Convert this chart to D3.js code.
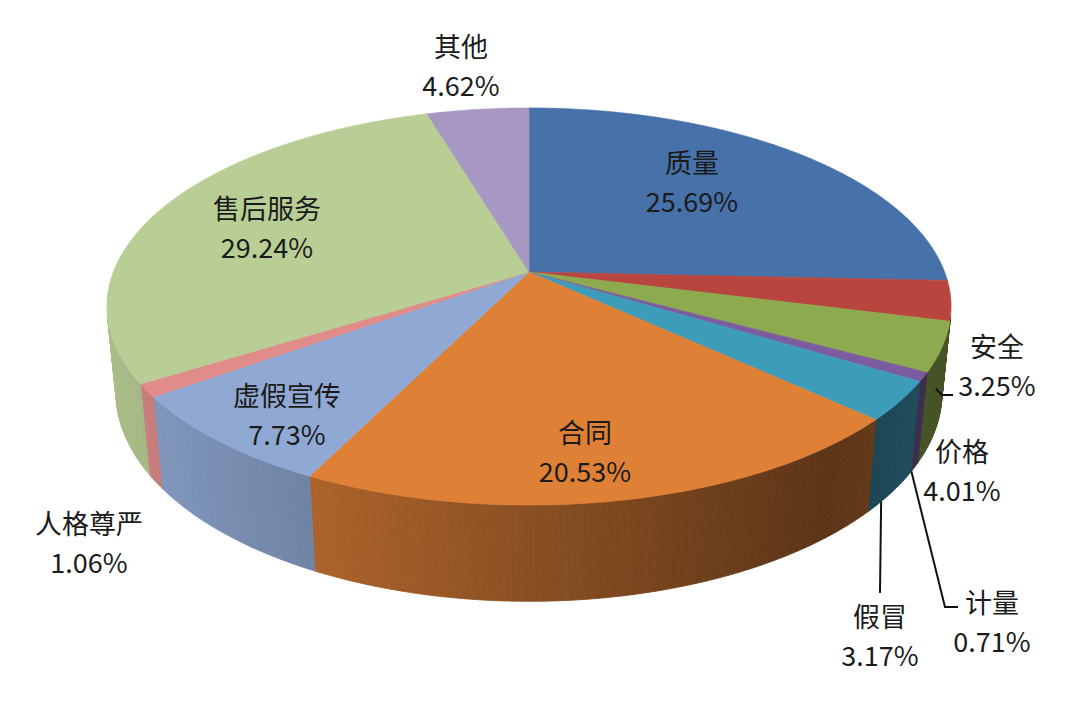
<!DOCTYPE html>
<html><head><meta charset="utf-8">
<script src="https://cdn.jsdelivr.net/npm/d3@7"></script>
<style>body{margin:0;background:#fff;} svg{display:block;}</style>
</head><body>
<svg id="chart" width="1080" height="710"></svg>
<script>
// ---- data ----
const categories = ["质量","安全","价格","计量","假冒","合同","虚假宣传","人格尊严","售后服务","其他"];
const values = [25.69, 3.25, 4.01, 0.71, 3.17, 20.53, 7.73, 1.06, 29.24, 4.62];
const colors = ["#4671a9","#b8463f","#8daa4e","#7b5c9e","#3e9cbb","#df8037","#90a9d4","#df8c8b","#b9ce94","#a797c3"];

// ---- layout (label anchors: centre of name line) ----
const labelPos = [[692,161],[997,345],[962,450],[992,601],[880,615],[585,431],[287,394],[89,522],[267,207],[461,45]];
const lineGap = 39;
// leader lines: start on the pie side (angle in degrees, depth fraction), then path relative to the label
const leaders = [
  {i:1, theta:113, hFrac:0.4, path:(x,y)=>[[x-55,y+50],[x-44,y+50]]},
  {i:3, theta:121, hFrac:1.0, path:(x,y)=>[[x-47,y+6],[x-34,y+6]]},
  {i:4, theta:129.5, hFrac:1.0, path:(x,y)=>[[x,y-22]]}
];

// ---- projection (perspective 3D pie) ----
const cx = 529, cy = 272, D = 5.098, cPhi = 0.886, sPhi = 0.4633, f = 2119, thick = 0.235;
function proj(th, r, h) {
  const x = r * Math.sin(th), y = -r * Math.cos(th);
  const depth = D - cPhi * y - sPhi * h;
  return [cx + f * x / depth, cy + f * (sPhi * y - cPhi * h) / depth];
}

const svg = d3.select("#chart");
const pie = d3.pie().sort(null).value(d => d)(values);
const line = d3.line();
const rad = Math.PI / 180;

function shadeFactor(sx) {
  const u = (sx - cx) / 423;
  if (u < 0.7) return 0.62 - 0.30 * u;
  return 0.41 + (u - 0.7) * 0.3;
}
function shade(col, k) {
  const c = d3.rgb(col);
  return d3.rgb(c.r * k, c.g * k, c.b * k).formatHex();
}

// ---- side walls ----
const visMin = Math.acos(-1 / (D * cPhi)), visMax = 2 * Math.PI - visMin;
const sideG = svg.append("g");
const strips = [];
pie.forEach((d, i) => {
  const a0 = Math.max(d.startAngle, visMin), a1 = Math.min(d.endAngle, visMax);
  if (a1 <= a0) return;
  const n = Math.max(1, Math.ceil((a1 - a0) / (0.5 * rad)));
  for (let k = 0; k < n; k++) {
    const s0 = a0 + (a1 - a0) * k / n, s1 = a0 + (a1 - a0) * (k + 1) / n;
    const pts = [proj(s0,1,0), proj(s1,1,0), proj(s1,1,-thick), proj(s0,1,-thick)];
    const mx = proj((s0 + s1) / 2, 1, -thick / 2)[0];
    strips.push({pts, color: shade(colors[i], shadeFactor(mx))});
  }
});
sideG.selectAll("path").data(strips).join("path")
  .attr("d", s => line(s.pts) + "Z")
  .attr("fill", s => s.color)
  .attr("stroke", s => s.color)
  .attr("stroke-width", 0.8);

// ---- top faces ----
const topG = svg.append("g");
topG.selectAll("path").data(pie).join("path")
  .attr("d", d => {
    const pts = [proj(0, 0, 0)];
    const n = Math.max(2, Math.ceil((d.endAngle - d.startAngle) / (0.5 * rad)));
    for (let k = 0; k <= n; k++) pts.push(proj(d.startAngle + (d.endAngle - d.startAngle) * k / n, 1, 0));
    return line(pts) + "Z";
  })
  .attr("fill", (d, i) => colors[i])
  .attr("stroke", (d, i) => colors[i])
  .attr("stroke-width", 0.6);

// ---- leader lines ----
const leadG = svg.append("g").attr("fill", "none").attr("stroke", "#111").attr("stroke-width", 2);
leaders.forEach(L => {
  const st = proj(L.theta * rad, 1, -thick * L.hFrac);
  const [lx, ly] = labelPos[L.i];
  leadG.append("path").attr("d", line([st, ...L.path(lx, ly)]));
});

// ---- labels ----
const fmt = v => v.toFixed(2) + "%";
const labG = svg.append("g")
  .attr("font-family", "'Noto Sans CJK SC', 'Noto Sans', sans-serif")
  .attr("font-size", 27).attr("fill", "#1b1b1b").attr("text-anchor", "middle");
categories.forEach((name, i) => {
  const [x, y] = labelPos[i];
  labG.append("text").attr("x", x).attr("y", y).attr("dominant-baseline", "central").text(name);
  labG.append("text").attr("x", x).attr("y", y + lineGap).attr("dominant-baseline", "central").text(fmt(values[i]));
});
</script>
</body></html>
